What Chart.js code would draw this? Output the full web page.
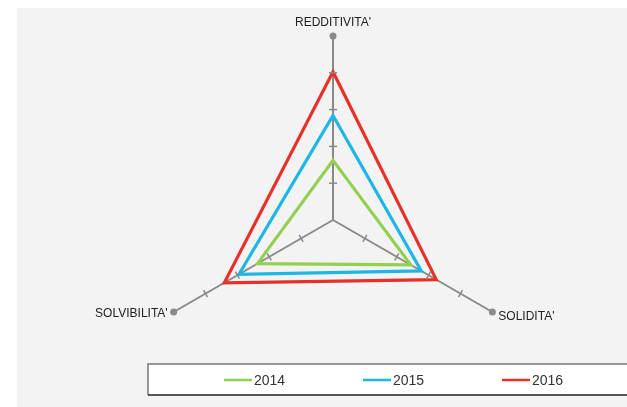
<!DOCTYPE html>
<html>
<head>
<meta charset="utf-8">
<script src="https://cdn.jsdelivr.net/npm/chart.js@4.4.1/dist/chart.umd.min.js"></script>
<style>
html,body{margin:0;padding:0;background:#ffffff;}
#wrap{position:relative;width:627px;height:407px;}
</style>
</head>
<body>
<div id="wrap"><canvas id="c" width="627" height="407"></canvas></div>
<script>
const categories = ["REDDITIVITA'", "SOLIDITA'", "SOLVIBILITA'"];
const seriesNames = ["2014", "2015", "2016"];
const values2014 = [1.62, 2.44, 2.37];
const values2015 = [2.84, 2.77, 2.95];
const values2016 = [4.03, 3.24, 3.41];
const tickValues = [1, 2, 3, 4];
const axisMax = 5;

const colors = ["#92d050", "#1eb6e4", "#e8302a"];

const decorPlugin = {
  id: 'decor',
  beforeDraw(chart) {
    const ctx = chart.ctx;
    ctx.save();
    ctx.fillStyle = '#f3f3f3';
    ctx.fillRect(17, 8, 610, 399);
    ctx.restore();
  },
  beforeDatasetsDraw(chart) {
    const ctx = chart.ctx;
    const r = chart.scales.r;
    ctx.save();
    for (let i = 0; i < categories.length; i++) {
      const e = r.getPointPositionForValue(i, axisMax);
      ctx.fillStyle = '#8a8a8a';
      ctx.beginPath();
      ctx.arc(e.x, e.y, 3.5, 0, Math.PI * 2);
      ctx.fill();
      ctx.fillStyle = '#222';
      ctx.font = '12px "Liberation Sans", Arial, sans-serif';
      const cx = r.xCenter;
      if (Math.abs(e.x - cx) < 2) {
        ctx.textAlign = 'center';
        ctx.textBaseline = 'alphabetic';
        ctx.fillText(categories[i], e.x, e.y - 10);
      } else if (e.x > cx) {
        ctx.textAlign = 'left';
        ctx.textBaseline = 'middle';
        ctx.fillText(categories[i], e.x + 6, e.y + 5);
      } else {
        ctx.textAlign = 'right';
        ctx.textBaseline = 'middle';
        ctx.fillText(categories[i], e.x - 6, e.y + 2);
      }
    }
    ctx.restore();
  },
  afterDatasetsDraw(chart) {
    const ctx = chart.ctx;
    const r = chart.scales.r;
    ctx.save();
    ctx.strokeStyle = '#8a8a8a';
    ctx.lineWidth = 1.5;
    for (let i = 0; i < categories.length; i++) {
      const a = r.getIndexAngle(i) - Math.PI / 2;
      const px = -Math.sin(a), py = Math.cos(a);
      tickValues.forEach(v => {
        const p = r.getPointPositionForValue(i, v);
        ctx.beginPath();
        ctx.moveTo(p.x - px * 4, p.y - py * 4);
        ctx.lineTo(p.x + px * 4, p.y + py * 4);
        ctx.stroke();
      });
    }
    ctx.restore();
  },
  afterDraw(chart) {
    const ctx = chart.ctx;
    ctx.save();
    ctx.fillStyle = '#ffffff';
    ctx.fillRect(148, 364, 500, 31);
    ctx.strokeStyle = '#777';
    ctx.lineWidth = 1.5;
    ctx.beginPath();
    ctx.moveTo(640, 364); ctx.lineTo(148, 364); ctx.lineTo(148, 395); ctx.stroke();
    ctx.strokeStyle = '#222';
    ctx.beginPath();
    ctx.moveTo(148, 395); ctx.lineTo(640, 395); ctx.stroke();
    ctx.font = '14px "Liberation Sans", Arial, sans-serif';
    ctx.textBaseline = 'middle';
    ctx.textAlign = 'left';
    chart.data.datasets.forEach((ds, k) => {
      const x0 = 224 + k * 139;
      ctx.strokeStyle = ds.borderColor;
      ctx.lineWidth = 2.5;
      ctx.beginPath();
      ctx.moveTo(x0, 380); ctx.lineTo(x0 + 28, 380); ctx.stroke();
      ctx.fillStyle = '#333';
      ctx.fillText(ds.label, x0 + 30, 381);
    });
    ctx.restore();
  }
};

new Chart(document.getElementById('c'), {
  type: 'radar',
  data: {
    labels: categories,
    datasets: [
      { label: seriesNames[0], data: values2014, borderColor: colors[0] },
      { label: seriesNames[1], data: values2015, borderColor: colors[1] },
      { label: seriesNames[2], data: values2016, borderColor: colors[2] }
    ].map(d => Object.assign(d, { fill: false, borderWidth: 3.2, pointRadius: 0, tension: 0, backgroundColor: 'transparent' }))
  },
  options: {
    responsive: false,
    animation: false,
    layout: { padding: { left: 149, right: 110, top: 36, bottom: 3 } },
    plugins: { legend: { display: false }, tooltip: { enabled: false } },
    scales: {
      r: {
        min: 0,
        max: axisMax,
        ticks: { display: false, stepSize: 1 },
        grid: { display: false },
        angleLines: { display: true, color: '#8a8a8a', lineWidth: 2 },
        pointLabels: { display: false }
      }
    }
  },
  plugins: [decorPlugin]
});
</script>
</body>
</html>
